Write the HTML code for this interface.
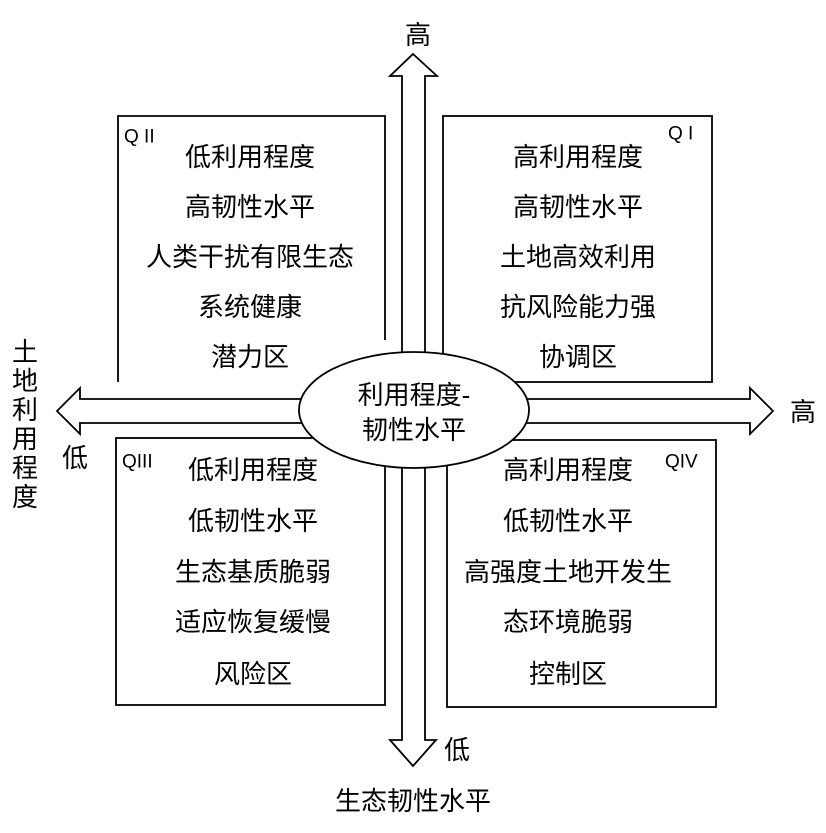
<!DOCTYPE html>
<html><head><meta charset="utf-8"><style>
html,body{margin:0;padding:0;background:#fff;}
svg{display:block;}
text{font-family:"Liberation Sans","Noto Sans CJK SC",sans-serif;fill:#000;}
.t{font-size:26px;text-anchor:middle;dominant-baseline:central;}
.q{font-size:19px;dominant-baseline:central;}
</style></head><body>
<svg width="826" height="833" viewBox="0 0 826 833" xmlns="http://www.w3.org/2000/svg">
<g fill="none" stroke="#000" stroke-width="1.8">
<polyline points="118,382 118,116 385,116 385,340"/>
<rect x="443" y="116" width="269" height="266"/>
<rect x="116" y="438" width="269" height="267"/>
<rect x="447" y="440" width="269" height="267"/>
</g>
<polygon points="413,54 437,76 425,76 425,740 436,740 413,766 390,740 402,740 402,76 390,76" fill="#fff" stroke="#000" stroke-width="1.8"/>
<polygon points="57,411 80,388 80,399 750,399 750,388 773,411 750,434 750,423 80,423 80,434" fill="#fff" stroke="#000" stroke-width="1.8"/>
<ellipse cx="414" cy="410" rx="115" ry="58" fill="#fff" stroke="#000" stroke-width="1.8"/>
<text class="t" x="414" y="395">利用程度-</text>
<text class="t" x="414" y="430">韧性水平</text>

<text class="q" x="124" y="137">Q II</text>
<text class="q" x="668" y="134">Q I</text>
<text class="q" x="122" y="462">QIII</text>
<text class="q" x="665" y="462">QIV</text>

<text class="t" x="250" y="157">低利用程度</text>
<text class="t" x="250" y="207">高韧性水平</text>
<text class="t" x="250" y="257">人类干扰有限生态</text>
<text class="t" x="250" y="307">系统健康</text>
<text class="t" x="250" y="357">潜力区</text>

<text class="t" x="578" y="157">高利用程度</text>
<text class="t" x="578" y="207">高韧性水平</text>
<text class="t" x="578" y="257">土地高效利用</text>
<text class="t" x="578" y="307">抗风险能力强</text>
<text class="t" x="578" y="357">协调区</text>

<text class="t" x="253" y="470">低利用程度</text>
<text class="t" x="253" y="521">低韧性水平</text>
<text class="t" x="253" y="572">生态基质脆弱</text>
<text class="t" x="253" y="622">适应恢复缓慢</text>
<text class="t" x="253" y="674">风险区</text>

<text class="t" x="568" y="470">高利用程度</text>
<text class="t" x="568" y="521">低韧性水平</text>
<text class="t" x="568" y="572">高强度土地开发生</text>
<text class="t" x="568" y="622">态环境脆弱</text>
<text class="t" x="568" y="674">控制区</text>

<text class="t" x="418" y="35">高</text>
<text class="t" x="803" y="412">高</text>
<text class="t" x="75" y="458">低</text>
<text class="t" x="457" y="750">低</text>
<text class="t" x="413" y="801">生态韧性水平</text>
<text class="t" x="25" y="352">土</text>
<text class="t" x="25" y="381">地</text>
<text class="t" x="25" y="410">利</text>
<text class="t" x="25" y="439">用</text>
<text class="t" x="25" y="468">程</text>
<text class="t" x="25" y="497">度</text>
</svg>
</body></html>
